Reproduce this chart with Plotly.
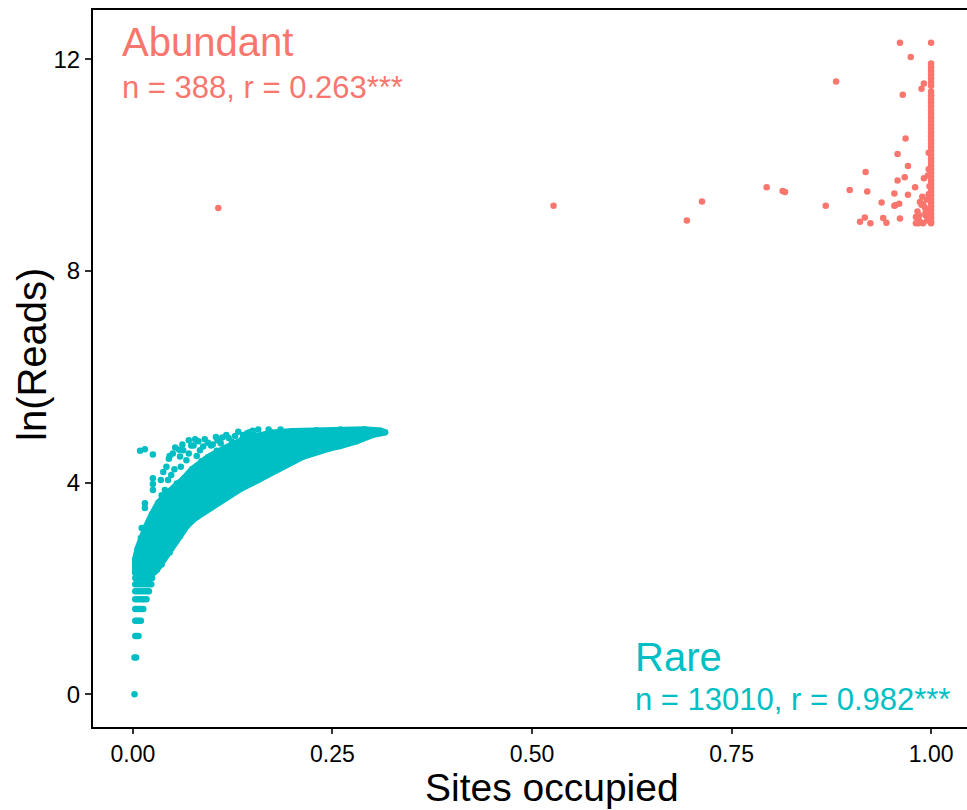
import plotly.graph_objects as go

RARE_COLOR = "#00BFC4"
ABUND_COLOR = "#F8766D"

# ---- Rare taxa -------------------------------------------------------------
# low-read rows (ln of small integer read counts) and their site fractions
rare_band_y = [0.0, 0.693, 1.099, 1.386, 1.609, 1.792, 1.946, 2.079, 2.197]
rare_band_x = [
    [0.002],
    [0.002, 0.004],
    [0.003, 0.005, 0.007],
    [0.003, 0.005, 0.008, 0.010],
    [0.003, 0.005, 0.008, 0.010, 0.013],
    [0.003, 0.006, 0.009, 0.012, 0.014, 0.017],
    [0.003, 0.006, 0.009, 0.012, 0.015, 0.018, 0.020],
    [0.003, 0.006, 0.009, 0.012, 0.015, 0.018, 0.020, 0.023],
    [0.003, 0.006, 0.009, 0.012, 0.015, 0.018, 0.021, 0.024],
]

# outline of the dense rare cloud (upper edge left to right, then lower edge back)
rare_core_x = [0.003, 0.003, 0.006, 0.010, 0.016, 0.024, 0.032, 0.042, 0.053, 0.064,
               0.074, 0.094, 0.115, 0.136, 0.157, 0.174, 0.200, 0.230, 0.260, 0.290,
               0.310, 0.316, 0.300, 0.280, 0.259, 0.247, 0.213, 0.180, 0.157, 0.136,
               0.115, 0.094, 0.080, 0.068, 0.059, 0.046, 0.036, 0.030, 0.026, 0.003]
rare_core_y = [2.30, 2.55, 2.75, 2.95, 3.15, 3.40, 3.62, 3.78, 3.92, 4.08,
               4.25, 4.48, 4.65, 4.80, 4.88, 4.94, 4.97, 4.99, 5.00, 5.00,
               4.98, 4.95, 4.90, 4.78, 4.69, 4.65, 4.49, 4.25, 4.05, 3.89,
               3.70, 3.51, 3.35, 3.19, 2.99, 2.68, 2.45, 2.35, 2.30, 2.30]

# scattered rare taxa above the dense cloud
rare_scatter_x = [0.009, 0.015, 0.025, 0.025, 0.025, 0.025, 0.015, 0.015, 0.011, 0.021,
                  0.053, 0.063, 0.078, 0.094, 0.106, 0.117, 0.132, 0.124, 0.157, 0.042,
                  0.048, 0.059, 0.067, 0.084, 0.055, 0.065, 0.040, 0.036, 0.073, 0.088,
                  0.100, 0.112, 0.143, 0.150, 0.170, 0.185, 0.070, 0.046,
                  0.045, 0.050, 0.058, 0.062, 0.070, 0.076, 0.082, 0.090, 0.098, 0.104,
                  0.110, 0.120, 0.128, 0.138, 0.146, 0.152, 0.035, 0.038, 0.044, 0.052,
                  0.060, 0.080, 0.086, 0.105]
rare_scatter_y = [4.60, 4.63, 4.53, 4.08, 3.97, 3.86, 3.61, 3.52, 3.14, 3.23,
                  4.66, 4.61, 4.82, 4.75, 4.80, 4.90, 4.96, 4.77, 5.00, 4.30,
                  4.14, 4.49, 4.42, 4.61, 3.98, 3.89, 3.86, 3.76, 4.70, 4.68,
                  4.72, 4.85, 4.93, 4.98, 5.00, 5.00, 4.55, 4.50,
                  4.45, 4.55, 4.62, 4.72, 4.80, 4.70, 4.78, 4.82, 4.70, 4.86,
                  4.74, 4.84, 4.88, 4.90, 4.95, 4.90, 4.05, 4.20, 4.05, 4.25,
                  4.30, 4.50, 4.40, 4.60]

# ---- Abundant taxa -----------------------------------------------------------
abund_x = [0.107, 0.527, 0.694, 0.713, 0.794, 0.814, 0.817, 0.868, 0.881, 0.898,
           0.911, 0.917, 0.918, 0.920, 0.924, 0.938, 0.940, 0.944, 0.954, 0.954,
           0.955, 0.958, 0.958, 0.960, 0.961, 0.961, 0.9645, 0.967, 0.968, 0.971,
           0.971, 0.9745, 0.980, 0.981, 0.984, 0.984, 0.986, 0.988, 0.988, 0.990,
           0.990, 0.991, 0.991, 0.992, 0.993, 0.993, 0.995, 0.995, 0.996, 0.996,
           0.997, 0.997, 0.997, 0.998, 0.998, 0.983, 0.985, 0.981, 0.986, 0.989]
abund_y = [9.19, 9.23, 8.95, 9.31, 9.58, 9.51, 9.49, 9.23, 11.58, 9.53,
           8.93, 9.01, 9.87, 9.50, 8.90, 9.29, 9.00, 8.91, 9.46, 9.23,
           9.24, 10.21, 9.71, 9.27, 12.31, 8.99, 11.33, 9.77, 10.50, 9.98,
           9.44, 12.04, 9.58, 9.02, 9.00, 8.90, 8.93, 11.44, 9.25, 9.27,
           8.90, 11.54, 9.75, 9.20, 9.05, 9.10, 9.35, 8.95, 9.15, 9.80,
           10.23, 9.92, 9.45, 9.60, 9.00, 9.12, 9.05, 8.90, 9.30, 9.40]

# taxa present at every site
abund_full_y = [12.31, 11.92, 11.85, 11.78, 11.71, 11.64, 11.57, 11.50, 11.39, 11.32,
                11.25, 11.18, 11.11, 11.04, 10.97, 10.90, 10.83, 10.76, 10.69, 10.62,
                10.55, 10.48, 10.41, 10.34, 10.27, 10.20, 10.13, 10.06, 9.99, 9.92,
                9.85, 9.78, 9.71, 9.64, 9.57, 9.50, 9.43, 9.36, 9.29, 9.22,
                9.15, 9.08, 9.01, 8.94, 8.90]

x_ticks = [0.0, 0.25, 0.5, 0.75, 1.0]
x_tick_text = ["0.00", "0.25", "0.50", "0.75", "1.00"]
y_ticks = [0, 4, 8, 12]

MS = 6.5

fig = go.Figure()

# dense rare cloud: filled outline, edged with a stroke as wide as a point
fig.add_trace(go.Scatter(
    x=rare_core_x, y=rare_core_y, mode="lines+markers", fill="toself",
    fillcolor=RARE_COLOR, line=dict(color=RARE_COLOR, width=MS),
    marker=dict(color=RARE_COLOR, size=MS), hoverinfo="skip", showlegend=False))

band_x, band_y = [], []
for yy, xs in zip(rare_band_y, rare_band_x):
    band_x.extend(xs)
    band_y.extend([yy] * len(xs))
fig.add_trace(go.Scatter(
    x=band_x, y=band_y, mode="markers",
    marker=dict(color=RARE_COLOR, size=MS), showlegend=False))
fig.add_trace(go.Scatter(
    x=rare_scatter_x, y=rare_scatter_y, mode="markers",
    marker=dict(color=RARE_COLOR, size=MS), showlegend=False))

fig.add_trace(go.Scatter(
    x=abund_x, y=abund_y, mode="markers",
    marker=dict(color=ABUND_COLOR, size=MS), showlegend=False))
fig.add_trace(go.Scatter(
    x=[1.0] * len(abund_full_y), y=abund_full_y, mode="markers",
    marker=dict(color=ABUND_COLOR, size=MS), showlegend=False))

FONT = "Liberation Sans, Arial, sans-serif"

annotations = [
    dict(x=-0.016, y=12.32, xref="x", yref="y", text="Abundant", showarrow=False,
         xanchor="left", yanchor="middle", font=dict(size=40, color=ABUND_COLOR, family=FONT)),
    dict(x=-0.016, y=11.47, xref="x", yref="y", text="n = 388, r = 0.263***", showarrow=False,
         xanchor="left", yanchor="middle", font=dict(size=31, color=ABUND_COLOR, family=FONT)),
    dict(x=0.626, y=0.70, xref="x", yref="y", text="Rare", showarrow=False,
         xanchor="left", yanchor="middle", font=dict(size=40, color=RARE_COLOR, family=FONT)),
    dict(x=0.626, y=-0.10, xref="x", yref="y", text="n = 13010, r = 0.982***", showarrow=False,
         xanchor="left", yanchor="middle", font=dict(size=31, color=RARE_COLOR, family=FONT)),
    dict(x=552, y=787, xref="paper", yref="paper", text="Sites occupied", showarrow=False,
         xanchor="center", yanchor="middle", font=dict(size=39, color="black", family=FONT)),
    dict(x=32, y=355, xref="paper", yref="paper", text="ln(Reads)", showarrow=False,
         xanchor="center", yanchor="middle",
         textangle=-90, font=dict(size=40, color="black", family=FONT)),
]

W, H = 967, 810
ML, MR, MT, MB = 93, 0, 10, 83
pw, ph = W - ML - MR, H - MT - MB
# convert the pixel-positioned titles into paper coordinates
for a in annotations[4:]:
    a["x"] = (a["x"] - ML) / pw
    a["y"] = (H - MB - a["y"]) / ph

fig.update_layout(
    width=W, height=H,
    margin=dict(l=ML, r=MR, t=MT, b=MB, pad=0),
    paper_bgcolor="white", plot_bgcolor="white",
    font=dict(family=FONT, color="black"),
    annotations=annotations,
    xaxis=dict(range=[-0.05, 1.045], tickvals=x_ticks, ticktext=x_tick_text,
               showgrid=False, zeroline=False, showline=True, linecolor="black",
               linewidth=2, mirror=True, ticks="outside", ticklen=5, tickwidth=1.5,
               tickcolor="#333333", tickfont=dict(size=23, color="black")),
    yaxis=dict(range=[-0.62, 12.93], tickvals=y_ticks,
               showgrid=False, zeroline=False, showline=True, linecolor="black",
               linewidth=2, ticks="outside", ticklen=6, tickwidth=1.5,
               tickcolor="#333333", tickfont=dict(size=24, color="black")),
)

fig.write_html("out.html")
